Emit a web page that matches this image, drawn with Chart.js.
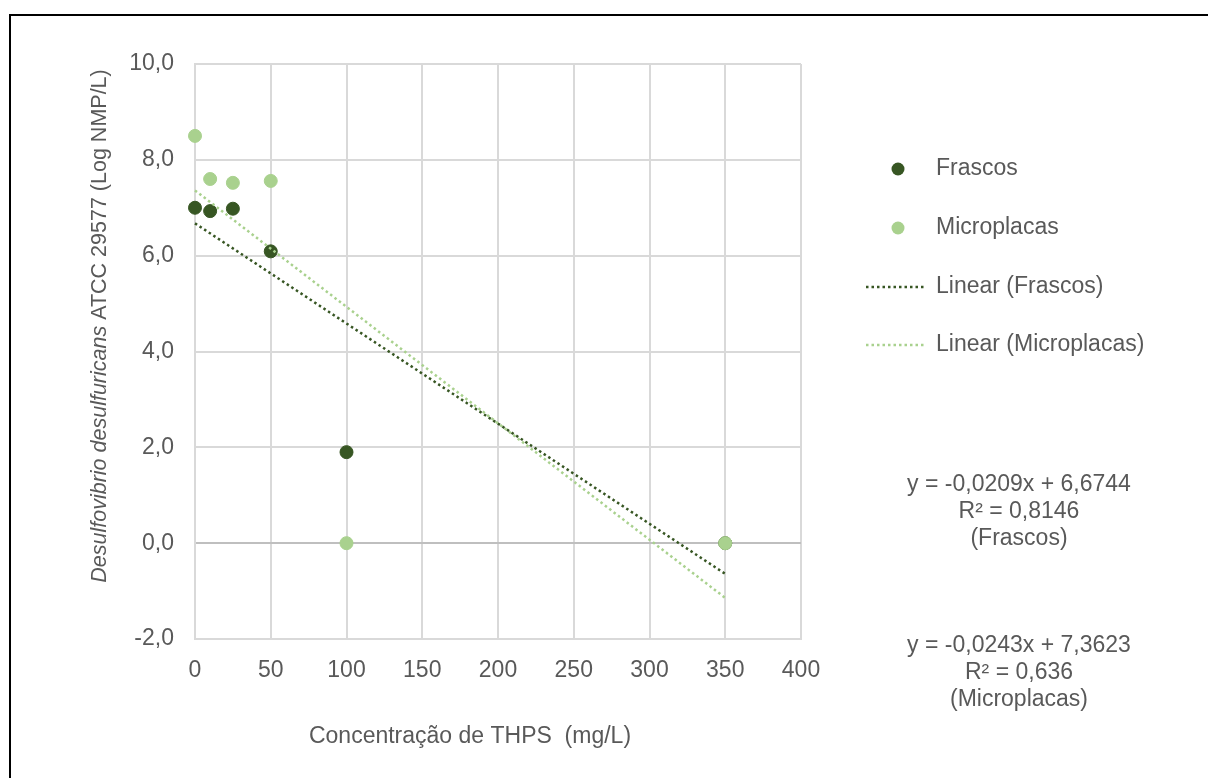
<!DOCTYPE html>
<html>
<head>
<meta charset="utf-8">
<script src="https://cdn.jsdelivr.net/npm/chart.js@4"></script>
<style>
  html, body { margin: 0; padding: 0; background: #fff; overflow: hidden; }
  #wrap { position: relative; width: 1208px; height: 778px; }
  #frame { position: absolute; left: 9px; top: 14px; width: 1400px; height: 1000px; border: 2px solid #000; box-sizing: border-box; pointer-events: none; }
  canvas { position: absolute; left: 0; top: 0; }
</style>
</head>
<body>
<div id="wrap">
  <canvas id="grafico" width="1208" height="778"></canvas>
  <div id="frame"></div>
</div>
<script>
// dados
const concentracoes = [0, 10, 25, 50, 100, 350]
const frascos = [7.00, 6.93, 6.98, 6.09, 1.90, 0.00]
const microplacas = [8.50, 7.60, 7.52, 7.56, 0.00, 0.00]

// linhas de tendencia (equacoes mostradas no grafico)
const tendNomes = ['Frascos', 'Microplacas']
const tendInclinacao = [-0.0209, -0.0243]
const tendIntercepto = [6.6744, 7.3623]
const tendR2 = ['0,8146', '0,636']
const tendIntervalo = [0, 350]

const corEscuro = '#375623'
const corClaro = '#a9d18e'
const corTexto = '#595959'
const fonte = '"Liberation Sans", Arial, sans-serif'

const virgula = (v, d) => v.toFixed(d).replace('.', ',')

const linhaTendencia = i => tendIntervalo.map(x => ({ x: x, y: tendIntercepto[i] + tendInclinacao[i] * x }))

const pontos = arr => concentracoes.map((x, i) => ({ x: x, y: arr[i] }))

// legenda, titulos e equacoes desenhados a mao
const textos = {
  id: 'textos',
  afterDraw(chart) {
    const ctx = chart.ctx
    ctx.save()
    ctx.fillStyle = corTexto
    ctx.textBaseline = 'middle'

    // titulo do eixo y (parte em italico)
    const parte1 = 'Desulfovibrio desulfuricans'
    const parte2 = ' ATCC 29577 (Log NMP/L)'
    ctx.font = 'italic 21.5px ' + fonte
    const w1 = ctx.measureText(parte1).width
    ctx.font = '21.5px ' + fonte
    const w2 = ctx.measureText(parte2).width
    ctx.translate(100, 326)
    ctx.rotate(-Math.PI / 2)
    ctx.textAlign = 'left'
    ctx.font = 'italic 21.5px ' + fonte
    ctx.fillText(parte1, -(w1 + w2) / 2, 0)
    ctx.font = '21.5px ' + fonte
    ctx.fillText(parte2, -(w1 + w2) / 2 + w1, 0)
    ctx.setTransform(1, 0, 0, 1, 0, 0)

    // titulo do eixo x
    ctx.textAlign = 'center'
    ctx.font = '23px ' + fonte
    ctx.fillText('Concentração de THPS  (mg/L)', 470, 737)

    // legenda
    const legenda = [
      { txt: 'Frascos', cor: corEscuro, tipo: 'ponto' },
      { txt: 'Microplacas', cor: corClaro, tipo: 'ponto' },
      { txt: 'Linear (Frascos)', cor: corEscuro, tipo: 'linha' },
      { txt: 'Linear (Microplacas)', cor: corClaro, tipo: 'linha' }
    ]
    const ys = [169, 228, 287, 345]
    legenda.forEach((item, i) => {
      const y = ys[i]
      if (item.tipo == 'ponto') {
        ctx.beginPath()
        ctx.fillStyle = item.cor
        ctx.arc(898, y, 6.5, 0, Math.PI * 2)
        ctx.fill()
      } else {
        ctx.beginPath()
        ctx.strokeStyle = item.cor
        ctx.lineWidth = 2.5
        ctx.setLineDash([2.5, 3])
        ctx.moveTo(866, y)
        ctx.lineTo(924, y)
        ctx.stroke()
        ctx.setLineDash([])
      }
      ctx.fillStyle = corTexto
      ctx.textAlign = 'left'
      ctx.fillText(item.txt, 936, y)
    })

    // equacoes
    ctx.textAlign = 'center'
    const blocos = [485, 646]
    tendNomes.forEach((nome, i) => {
      const y0 = blocos[i]
      const eq = 'y = ' + virgula(tendInclinacao[i], 4) + 'x + ' + virgula(tendIntercepto[i], 4)
      ctx.fillText(eq, 1019, y0)
      ctx.fillText('R² = ' + tendR2[i], 1019, y0 + 27)
      ctx.fillText('(' + nome + ')', 1019, y0 + 54)
    })
    ctx.restore()
  }
}

new Chart('grafico', {
  type: 'scatter',
  data: {
    datasets: [
      {
        label: 'Linear (Frascos)',
        type: 'line',
        data: linhaTendencia(0),
        borderColor: corEscuro,
        borderWidth: 2.5,
        borderDash: [2.5, 3],
        pointRadius: 0,
        fill: false,
        clip: false,
        order: 0
      },
      {
        label: 'Linear (Microplacas)',
        type: 'line',
        data: linhaTendencia(1),
        borderColor: corClaro,
        borderWidth: 2.5,
        borderDash: [2.5, 3],
        pointRadius: 0,
        fill: false,
        clip: false,
        order: 0
      },
      {
        label: 'Microplacas',
        data: pontos(microplacas),
        backgroundColor: corClaro,
        borderColor: corClaro,
        pointRadius: 6.5,
        clip: false,
        order: 1
      },
      {
        label: 'Frascos',
        data: pontos(frascos),
        backgroundColor: corEscuro,
        borderColor: corEscuro,
        pointRadius: 6.5,
        clip: false,
        order: 2
      }
    ]
  },
  options: {
    responsive: false,
    animation: false,
    layout: {
      padding: { top: 64, left: 0, right: 407, bottom: 79 }
    },
    plugins: {
      legend: { display: false },
      tooltip: { enabled: false }
    },
    scales: {
      x: {
        type: 'linear',
        min: 0,
        max: 400,
        afterFit: s => { s.height = 60 },
        border: { display: true, color: '#d9d9d9', width: 2 },
        grid: { color: '#d9d9d9', lineWidth: 2, drawTicks: false },
        ticks: {
          stepSize: 50,
          padding: 18,
          color: corTexto,
          font: { family: fonte, size: 23 }
        }
      },
      y: {
        min: -2,
        max: 10,
        afterFit: s => { s.width = 195 },
        border: { display: true, color: '#d9d9d9', width: 2 },
        grid: {
          color: c => c.tick && c.tick.value === 0 ? '#bfbfbf' : '#d9d9d9',
          lineWidth: 2,
          drawTicks: false
        },
        ticks: {
          stepSize: 2,
          padding: 21,
          color: corTexto,
          font: { family: fonte, size: 23 },
          callback: v => virgula(v, 1)
        }
      }
    }
  },
  plugins: [textos]
})
</script>
</body>
</html>
